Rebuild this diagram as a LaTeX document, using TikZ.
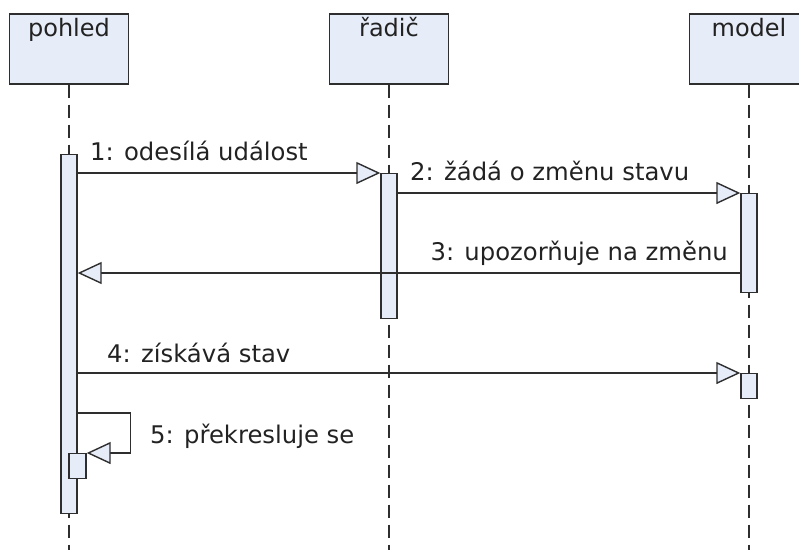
\documentclass[tikz,border=0pt]{standalone}
\usepackage{fontspec}
\setmainfont{DejaVu Sans}
\usetikzlibrary{arrows.meta}
\definecolor{boxfill}{HTML}{E6ECF8}
\definecolor{linecol}{HTML}{2E2E2E}
\definecolor{textcol}{HTML}{222222}
\begin{document}
\begin{tikzpicture}
    [x=1pt,y=-1pt,
      objbox/.style={draw=linecol, fill=boxfill, line width=1.6pt,
        minimum width=119pt, minimum height=70pt, inner sep=0pt},
      objlabel/.style={anchor=base, inner sep=0pt, text=textcol,
        font=\fontsize{24}{28}\selectfont},
      actbar/.style={draw=linecol, fill=boxfill, line width=1.4pt,
        minimum width=16pt, inner sep=0pt, anchor=north},
      lifeline/.style={draw=linecol, line width=1.4pt,
        dash pattern=on 13pt off 7pt},
      msg/.style={draw=linecol, line width=1.4pt,
        -{Triangle[length=24pt,width=22pt,fill=boxfill]}},
      msglabel/.style={inner sep=0pt, text=textcol,
        font=\fontsize{24.3}{28}\selectfont}]
    \def \boxtop {13}
    \def \bottom {550}
    \clip (0,0) rectangle (799,550);
    \useasboundingbox (0,0) rectangle (799,550);

    % objects and their lifelines
    \foreach \name/\x/\txt in {pohled/69/pohled, radic/389/řadič, model/749/model}
    {
      \node[objbox, anchor=north] (\name) at (\x,\boxtop) {};
      \node[objlabel] (\name-label) at (\x,36) {\txt};
      \draw[lifeline] (\name.south) -- (\x,\bottom);
    }

    % activations
    \node[actbar, minimum height=359pt] (actP) at (69,154) {};
    \node[actbar, minimum height=145pt] (actR) at (389,173) {};
    \node[actbar, minimum height=99pt] (actM) at (749,193) {};
    \node[actbar, minimum height=25pt] (actM2) at (749,373) {};
    \node[actbar, minimum height=25pt, minimum width=17pt] (actS) at (77.5,453) {};

    \coordinate (m3) at (0,273);
    \coordinate (m5) at (0,413);

    % messages
    \draw[msg] (actP.east |- actR.north) -- (actR.north west);
    \draw[msg] (actR.east |- actM.north) -- (actM.north west);
    \draw[msg] (actM.west |- m3) -- (actP.east |- m3);
    \draw[msg] (actP.east |- actM2.north) -- (actM2.north west);
    \draw[msg] (actP.east |- m5) -- ++(53,0) |- (actS.north east);

    \node[msglabel, anchor=base west] (l1) at (90,160) {1: odesílá událost};
    \node[msglabel, anchor=base west] (l2) at (410,180) {2: žádá o změnu stavu};
    \node[msglabel, anchor=base east] (l3) at (728,260) {3: upozorňuje na změnu};
    \node[msglabel, anchor=base west] (l4) at (107,362) {4: získává stav};
    \node[msglabel, anchor=base west] (l5) at (150,443) {5: překresluje se};
  \end{tikzpicture}
\end{document}
